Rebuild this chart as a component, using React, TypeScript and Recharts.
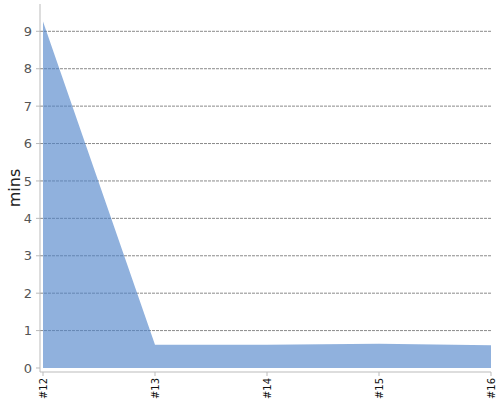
import React from 'react';
import { AreaChart, Area, XAxis, YAxis, CartesianGrid } from 'recharts';

const categories = ['#12', '#13', '#14', '#15', '#16'];
const minutes = [9.26, 0.62, 0.62, 0.65, 0.61];
const yTicks = [0, 1, 2, 3, 4, 5, 6, 7, 8, 9];
const yDomain = [-0.107, 9.73];

const data = categories.map((c, i) => ({ name: c, mins: minutes[i] }));

const gridGenerator = (p: any) => {
  const s = p?.yAxis?.scale;
  let f: ((v: number) => number) | null = null;
  if (typeof s === 'function') f = (v) => s(v);
  else if (s && typeof s.map === 'function') f = (v) => s.map(v);
  if (!f) {
    const top = p?.offset?.top ?? 4;
    const h = p?.offset?.height ?? 368;
    f = (v) => top + (h * (yDomain[1] - v)) / (yDomain[1] - yDomain[0]);
  }
  return yTicks.filter((t) => t > 0).map((t) => f!(t));
};

const XTick = (props: any) => {
  const { x, y, payload } = props;
  return (
    <text
      x={x}
      y={y}
      transform={`rotate(-90 ${x} ${y})`}
      textAnchor="end"
      dy={3.5}
      fontSize={10}
      fontFamily="DejaVu Sans"
      fill="#111"
    >
      {payload.value}
    </text>
  );
};

export default function App() {
  return (
    <div style={{ position: 'absolute', left: 0, top: 0, width: 500, height: 400 }}>
      <AreaChart width={500} height={400} data={data} margin={{ top: 4, right: 9, bottom: 0, left: 0 }}>
        <CartesianGrid
          vertical={false}
          stroke="#8a8a8a"
          strokeDasharray="3 1"
          horizontalCoordinatesGenerator={gridGenerator}
        />
        <XAxis
          dataKey="name"
          height={28}
          padding={{ left: 3, right: 0 }}
          axisLine={{ stroke: '#bbb' }}
          tickLine={{ stroke: '#bbb' }}
          tickSize={4}
          tickMargin={2}
          interval={0}
          tick={<XTick />}
        />
        <YAxis
          width={40}
          domain={yDomain}
          ticks={yTicks}
          allowDataOverflow
          axisLine={{ stroke: '#bbb' }}
          tickLine={{ stroke: '#bbb' }}
          tickSize={4}
          tickMargin={4}
          tick={{ fontSize: 13, fill: '#555', fontFamily: 'DejaVu Sans' }}
          label={{ value: 'mins', angle: -90, position: 'center', dx: -6, style: { fontSize: 16, fill: '#222', fontFamily: 'DejaVu Sans' } }}
        />
        <Area
          type="linear"
          dataKey="mins"
          baseValue={0}
          stroke="none"
          fill="#4f84c9"
          fillOpacity={0.63}
          isAnimationActive={false}
        />
      </AreaChart>
    </div>
  );
}
